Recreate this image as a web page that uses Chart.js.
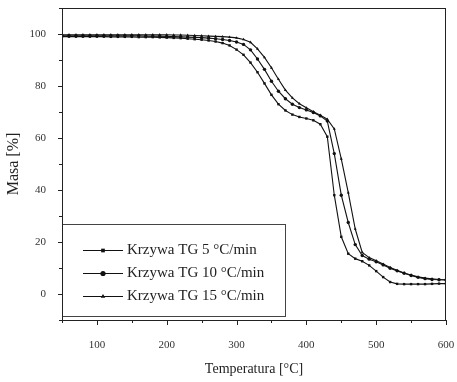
<!DOCTYPE html>
<html>
<head>
<meta charset="utf-8">
<script src="https://cdn.jsdelivr.net/npm/chart.js@4/dist/chart.umd.min.js"></script>
<style>
  body { margin: 0; background: #fff; }
  canvas { display: block; }
</style>
</head>
<body>
<canvas id="tgCanvas" width="457" height="382"></canvas>
<script>
// krzywe TG

var temperatury = [
  50, 60, 70, 80, 90, 100, 110, 120, 130, 140,
  150, 160, 170, 180, 190, 200, 210, 220, 230, 240,
  250, 260, 270, 280, 290, 300, 310, 320, 330, 340,
  350, 360, 370, 380, 390, 400, 410, 420, 430, 440,
  450, 460, 470, 480, 490, 500, 510, 520, 530, 540,
  550, 560, 570, 580, 590, 600
];

var masa5 = [
  99.0, 99.0, 99.0, 99.0, 99.0, 99.0, 99.0, 98.9, 98.9, 98.9,
  98.9, 98.8, 98.8, 98.8, 98.7, 98.6, 98.5, 98.4, 98.2, 98.0,
  97.8, 97.5, 97.1, 96.5, 95.6, 94.0, 92.0, 89.0, 85.3, 81.0,
  76.6, 73.0, 70.6, 69.0, 68.1, 67.5, 66.8, 65.3, 60.5, 38.0,
  22.0, 15.5, 13.6, 12.6, 11.0, 8.8, 6.5, 4.6, 3.9, 3.8,
  3.8, 3.8, 3.8, 3.9, 4.0, 4.0
];

var masa10 = [
  99.3, 99.3, 99.3, 99.3, 99.3, 99.3, 99.3, 99.3, 99.3, 99.3,
  99.3, 99.3, 99.2, 99.2, 99.2, 99.1, 99.0, 98.9, 98.8, 98.7,
  98.6, 98.4, 98.2, 97.9, 97.5, 96.9, 96.0, 93.9, 90.4, 86.4,
  81.8, 78.0, 75.1, 73.0, 71.7, 70.8, 69.8, 68.5, 66.5, 54.0,
  38.0, 27.5, 19.0, 14.8, 13.4, 12.4, 11.2, 9.9, 8.9, 8.0,
  7.1, 6.4, 5.9, 5.6, 5.5, 5.4
];

var masa15 = [
  99.7, 99.7, 99.7, 99.7, 99.7, 99.7, 99.7, 99.7, 99.7, 99.7,
  99.7, 99.7, 99.7, 99.7, 99.7, 99.7, 99.6, 99.6, 99.5, 99.4,
  99.3, 99.2, 99.1, 99.0, 98.8, 98.5, 97.9, 96.8, 94.3, 91.0,
  87.0, 82.6, 78.4, 75.4, 73.2, 71.6, 70.1, 68.8, 67.2, 63.5,
  52.0, 39.0, 25.0, 16.0, 14.0, 12.8, 11.5, 10.2, 9.1, 8.1,
  7.3, 6.6, 6.1, 5.8, 5.6, 5.5
];

var etykiety = ["Krzywa TG 5 \u00b0C/min", "Krzywa TG 10 \u00b0C/min", "Krzywa TG 15 \u00b0C/min"];
var znaczniki = ["rect", "circle", "triangle"];

var xTicki = [100, 200, 300, 400, 500, 600];
var yTicki = [0, 20, 40, 60, 80, 100];

var czcionka = "'Liberation Serif', 'Times New Roman', serif";

function punkty(ys) {
  var out = [];
  for (var i = 0; i < temperatury.length; i++) {
    out.push({ x: temperatury[i], y: ys[i] });
  }
  return out;
}

function seria(nr, ys) {
  return {
    label: etykiety[nr],
    data: punkty(ys),
    borderColor: "#111",
    backgroundColor: "#111",
    borderWidth: 1.1,
    pointStyle: znaczniki[nr],
    pointRadius: 1.7,
    pointBorderWidth: 0,
    tension: 0,
    fill: false
  };
}

// bez dodatkowego marginesu od etykiet
function bezPaddingu(scale) {
  scale.paddingLeft = 0;
  scale.paddingRight = 0;
  scale.paddingTop = 0;
  scale.paddingBottom = 0;
}

// ramka, ticki, legenda
var ramkaPlugin = {
  id: "ramka",
  afterDatasetsDraw: function(chart) {
    var ctx = chart.ctx;
    var a = chart.chartArea;
    var sx = chart.scales.x;
    var sy = chart.scales.y;
    ctx.save();
    ctx.strokeStyle = "#222";
    ctx.lineWidth = 1;

    // ticki osi x (w dół)
    ctx.beginPath();
    for (var t = 50; t <= 600; t += 50) {
      var px = Math.round(sx.getPixelForValue(t)) + 0.5;
      var len = (t % 100 === 0) ? 5 : 3;
      ctx.moveTo(px, a.bottom);
      ctx.lineTo(px, a.bottom + len);
    }
    // ticki osi y (w lewo)
    for (var v = -10; v <= 110; v += 10) {
      var py = Math.round(sy.getPixelForValue(v)) + 0.5;
      var l2 = (v % 20 === 0) ? 4 : 3;
      ctx.moveTo(a.left, py);
      ctx.lineTo(a.left - l2, py);
    }
    ctx.stroke();

    // legenda
    var lx0 = a.left, ly0 = 224, lx1 = 285, ly1 = 316;
    ctx.fillStyle = "#fff";
    ctx.fillRect(lx0, ly0, lx1 - lx0, ly1 - ly0);
    ctx.strokeStyle = "#444";
    ctx.strokeRect(lx0 + 0.5, ly0 + 0.5, lx1 - lx0, ly1 - ly0);

    var wiersze = [250, 273, 296];
    ctx.font = "15px " + czcionka;
    ctx.textBaseline = "middle";
    ctx.textAlign = "left";
    for (var i = 0; i < chart.data.datasets.length; i++) {
      var y = wiersze[i];
      ctx.strokeStyle = "#111";
      ctx.lineWidth = 1.1;
      ctx.beginPath();
      ctx.moveTo(83, y + 0.5);
      ctx.lineTo(123, y + 0.5);
      ctx.stroke();
      ctx.fillStyle = "#111";
      Chart.helpers.drawPoint(ctx, {
        pointStyle: znaczniki[i],
        radius: 2.6,
        borderWidth: 0,
        rotation: 0
      }, 103, y + 0.5);
      ctx.fillStyle = "#222";
      ctx.fillText(chart.data.datasets[i].label, 127, y);
    }

    // ramka wykresu
    ctx.strokeStyle = "#222";
    ctx.lineWidth = 1;
    ctx.strokeRect(a.left + 0.5, a.top + 0.5, a.right - a.left - 1, a.bottom - a.top);
    ctx.restore();
  }
};

var graphData = {
  type: "line",
  data: {
    datasets: [seria(0, masa5), seria(1, masa10), seria(2, masa15)]
  },
  options: {
    responsive: false,
    animation: false,
    layout: { padding: { top: 8, right: 11, left: 0, bottom: 0 } },
    plugins: {
      legend: { display: false },
      tooltip: { enabled: false }
    },
    scales: {
      x: {
        type: "linear",
        min: 50,
        max: 600,
        afterFit: function(scale) { scale.height = 62; bezPaddingu(scale); },
        afterBuildTicks: function(scale) {
          scale.ticks = xTicki.map(function(v) { return { value: v }; });
        },
        grid: { display: false },
        border: { display: false },
        ticks: {
          color: "#333",
          padding: 11,
          maxRotation: 0,
          font: { family: czcionka, size: 11 }
        },
        title: {
          display: true,
          text: "Temperatura [\u00b0C]",
          color: "#222",
          padding: { top: 10 },
          font: { family: czcionka, size: 14 }
        }
      },
      y: {
        min: -10,
        max: 110,
        afterFit: function(scale) { scale.width = 62; bezPaddingu(scale); },
        afterBuildTicks: function(scale) {
          scale.ticks = yTicki.map(function(v) { return { value: v }; });
        },
        grid: { display: false },
        border: { display: false },
        ticks: {
          color: "#333",
          padding: 8,
          font: { family: czcionka, size: 11 }
        },
        title: {
          display: true,
          text: "Masa [%]",
          color: "#222",
          padding: { bottom: 6 },
          font: { family: czcionka, size: 16 }
        }
      }
    }
  },
  plugins: [ramkaPlugin]
};

var context = document.getElementById("tgCanvas").getContext("2d");
var tgChart = new Chart(context, graphData);
</script>
</body>
</html>
